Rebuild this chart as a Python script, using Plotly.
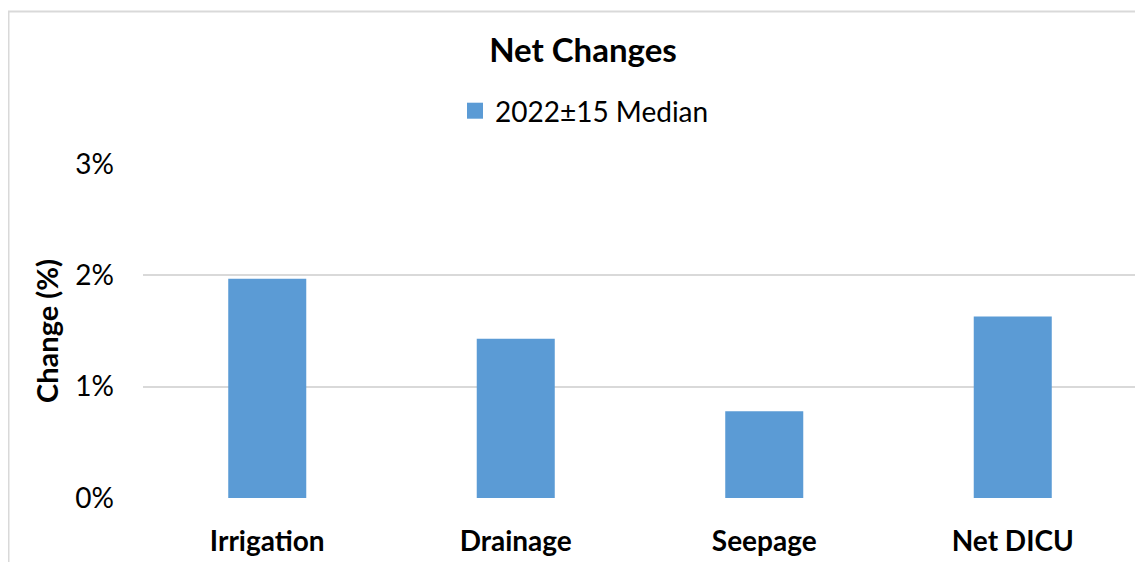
import plotly.graph_objects as go

categories = ["Irrigation", "Drainage", "Seepage", "Net DICU"]
median_change = [0.0197, 0.0143, 0.0078, 0.0163]
series_name = "2022±15 Median"
y_ticks = [0, 0.01, 0.02, 0.03]
y_tick_labels = ["0%", "1%", "2%", "3%"]

# page body adds an 8px margin, so the figure is 8px smaller than the window
W, H = 1135, 554
L, R, T, B = 135, 6, 156, 64
pw, ph = W - L - R, H - T - B
BLUE = "#5b9bd5"

fig = go.Figure()
fig.add_trace(go.Bar(x=categories, y=median_change, name=series_name,
                     marker=dict(color=BLUE, line=dict(width=0)),
                     showlegend=False))
# legend entry with a bigger square swatch
fig.add_trace(go.Scatter(x=[None], y=[None], mode="markers", name=series_name,
                         marker=dict(symbol="square", size=16, color=BLUE)))

# light grey outer frame (cut off at right / bottom in the original)
fig.add_shape(type="rect", xref="paper", yref="paper",
              x0=(0.5 - L) / pw, x1=(W + 20 - L) / pw,
              y0=-(H + 20 - T - ph) / ph, y1=(T + ph - 3.5) / ph,
              line=dict(color="#d9d9d9", width=2), fillcolor="rgba(0,0,0,0)",
              layer="below")

fig.update_layout(
    width=W, height=H,
    margin=dict(l=L, r=R, t=T, b=B),
    paper_bgcolor="white", plot_bgcolor="white",
    font=dict(family="Lato", color="#000000"),
    title=dict(text="<b>Net Changes</b>", x=575 / W, xanchor="center",
               y=1 - 42 / H, yanchor="middle",
               font=dict(size=33, color="#000000")),
    bargap=0.686,
    showlegend=True,
    legend=dict(orientation="h", x=447 / W, xref="container",
                xanchor="left", y=1 - 103 / H, yref="container", yanchor="middle",
                font=dict(size=28), itemsizing="trace"),
    xaxis=dict(showline=False, ticks="", showgrid=False,
               tickfont=dict(size=28, family="Lato", weight="bold"),
               ticklabelstandoff=24),
    yaxis=dict(range=[0, 0.03], tickvals=y_ticks, ticktext=y_tick_labels,
               showgrid=True, gridcolor="#d9d9d9", gridwidth=1.5,
               zeroline=False, showline=False, ticks="",
               tickfont=dict(size=28, family="Lato"),
               ticklabelstandoff=28,
               title=dict(text="<b>Change (%)</b>", font=dict(size=29), standoff=8)),
)

fig.write_html("out.html")
